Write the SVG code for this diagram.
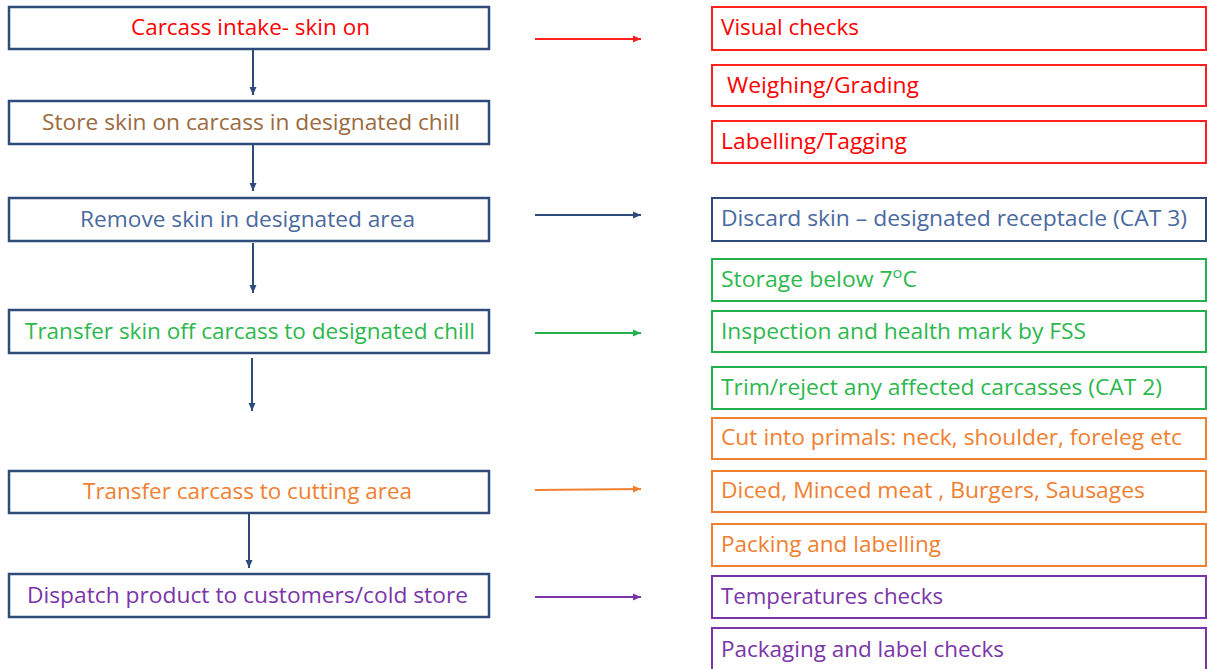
<svg xmlns="http://www.w3.org/2000/svg" width="1209" height="669" viewBox="0 0 1209 669">
<defs>
<style>
text{font-family:"Open Sans","Liberation Sans",sans-serif;font-size:21px}
.lb{fill:#fff;stroke:#2F4B7C;stroke-width:2.5}
.rb{fill:#fff;stroke-width:2}
.red{fill:#FF0000}.brn{fill:#9A6A40}.blu{fill:#4A69A0}.grn{fill:#2DB84D}.org{fill:#F08030}.pur{fill:#7A35A8}
.sred{stroke:#FF2020}.sblu{stroke:#2F4B7C}.sgrn{stroke:#22B14C}.sorg{stroke:#F08030}.spur{stroke:#7A35A8}
.c{fill:none;stroke-width:2}
</style>
<marker id="mb" markerUnits="userSpaceOnUse" markerWidth="9" markerHeight="9" refX="8" refY="4.5" orient="auto"><path d="M0,1 L8,4.5 L0,8 Z" fill="#2F4B7C"/></marker>
<marker id="mr" markerUnits="userSpaceOnUse" markerWidth="9" markerHeight="9" refX="8" refY="4.5" orient="auto"><path d="M0,1 L8,4.5 L0,8 Z" fill="#FF2020"/></marker>
<marker id="mg" markerUnits="userSpaceOnUse" markerWidth="9" markerHeight="9" refX="8" refY="4.5" orient="auto"><path d="M0,1 L8,4.5 L0,8 Z" fill="#22B14C"/></marker>
<marker id="mo" markerUnits="userSpaceOnUse" markerWidth="9" markerHeight="9" refX="8" refY="4.5" orient="auto"><path d="M0,1 L8,4.5 L0,8 Z" fill="#F08030"/></marker>
<marker id="mp" markerUnits="userSpaceOnUse" markerWidth="9" markerHeight="9" refX="8" refY="4.5" orient="auto"><path d="M0,1 L8,4.5 L0,8 Z" fill="#7A35A8"/></marker>
</defs>
<rect width="1209" height="669" fill="#fff"/>

<g id="connectors">
<line class="c sblu" x1="253" y1="50" x2="253" y2="95" marker-end="url(#mb)"/>
<line class="c sblu" x1="253" y1="145" x2="253" y2="191" marker-end="url(#mb)"/>
<line class="c sblu" x1="253" y1="243" x2="253" y2="293" marker-end="url(#mb)"/>
<line class="c sblu" x1="252" y1="358" x2="252" y2="411" marker-end="url(#mb)"/>
<line class="c sblu" x1="249" y1="514" x2="249" y2="568" marker-end="url(#mb)"/>
<line class="c sred" x1="535" y1="39" x2="641" y2="39" marker-end="url(#mr)"/>
<line class="c sblu" x1="535" y1="215" x2="641" y2="215" marker-end="url(#mb)"/>
<line class="c sgrn" x1="535" y1="333" x2="641" y2="333" marker-end="url(#mg)"/>
<line class="c sorg" x1="535" y1="490" x2="641" y2="489" marker-end="url(#mo)"/>
<line class="c spur" x1="535" y1="597" x2="641" y2="597" marker-end="url(#mp)"/>
</g>

<g id="n1"><rect class="lb" x="9" y="7" width="480" height="42"/><text class="red" x="131" y="35" textLength="239" lengthAdjust="spacingAndGlyphs">Carcass intake- skin on</text></g>
<g id="n2"><rect class="lb" x="9" y="101" width="480" height="43"/><text class="brn" x="42" y="130" textLength="418" lengthAdjust="spacingAndGlyphs">Store skin on carcass in designated chill</text></g>
<g id="n3"><rect class="lb" x="9" y="198" width="480" height="43"/><text class="blu" x="80" y="227" textLength="335" lengthAdjust="spacingAndGlyphs">Remove skin in designated area</text></g>
<g id="n4"><rect class="lb" x="9" y="310" width="480" height="43"/><text class="grn" x="25" y="339" textLength="450" lengthAdjust="spacingAndGlyphs">Transfer skin off carcass to designated chill</text></g>
<g id="n5"><rect class="lb" x="9" y="471" width="480" height="42"/><text class="org" x="83" y="499" textLength="329" lengthAdjust="spacingAndGlyphs">Transfer carcass to cutting area</text></g>
<g id="n6"><rect class="lb" x="9" y="574" width="480" height="43"/><text class="pur" x="27" y="603" textLength="441" lengthAdjust="spacingAndGlyphs">Dispatch product to customers/cold store</text></g>

<g id="r1"><rect class="rb sred" x="712" y="7" width="494" height="43"/><text class="red" x="721" y="35" textLength="138" lengthAdjust="spacingAndGlyphs">Visual checks</text></g>
<g id="r2"><rect class="rb sred" x="712" y="65" width="494" height="41"/><text class="red" x="727" y="93" textLength="192" lengthAdjust="spacingAndGlyphs">Weighing/Grading</text></g>
<g id="r3"><rect class="rb sred" x="712" y="121" width="494" height="42"/><text class="red" x="721" y="149" textLength="186" lengthAdjust="spacingAndGlyphs">Labelling/Tagging</text></g>
<g id="r4"><rect class="rb sblu" x="712" y="198" width="494" height="43"/><text class="blu" x="721" y="226" textLength="466" lengthAdjust="spacingAndGlyphs">Discard skin – designated receptacle (CAT 3)</text></g>
<g id="r5"><rect class="rb sgrn" x="712" y="259" width="494" height="42"/><text class="grn" x="721" y="287" textLength="196" lengthAdjust="spacingAndGlyphs">Storage below 7<tspan font-size="15" dy="-9">o</tspan><tspan dy="9">C</tspan></text></g>
<g id="r6"><rect class="rb sgrn" x="712" y="311" width="494" height="41"/><text class="grn" x="721" y="339" textLength="365" lengthAdjust="spacingAndGlyphs">Inspection and health mark by FSS</text></g>
<g id="r7"><rect class="rb sgrn" x="712" y="367" width="494" height="42"/><text class="grn" x="721" y="395" textLength="441" lengthAdjust="spacingAndGlyphs">Trim/reject any affected carcasses (CAT 2)</text></g>
<g id="r8"><rect class="rb sorg" x="712" y="418" width="494" height="41"/><text class="org" x="721" y="445" textLength="461" lengthAdjust="spacingAndGlyphs">Cut into primals: neck, shoulder, foreleg etc</text></g>
<g id="r9"><rect class="rb sorg" x="712" y="471" width="494" height="41"/><text class="org" x="721" y="498" textLength="424" lengthAdjust="spacingAndGlyphs">Diced, Minced meat , Burgers, Sausages</text></g>
<g id="r10"><rect class="rb sorg" x="712" y="524" width="494" height="42"/><text class="org" x="721" y="552" textLength="220" lengthAdjust="spacingAndGlyphs">Packing and labelling</text></g>
<g id="r11"><rect class="rb spur" x="712" y="576" width="494" height="42"/><text class="pur" x="721" y="604" textLength="222" lengthAdjust="spacingAndGlyphs">Temperatures checks</text></g>
<g id="r12"><rect class="rb spur" x="712" y="628" width="494" height="46"/><text class="pur" x="721" y="657" textLength="283" lengthAdjust="spacingAndGlyphs">Packaging and label checks</text></g>
</svg>
